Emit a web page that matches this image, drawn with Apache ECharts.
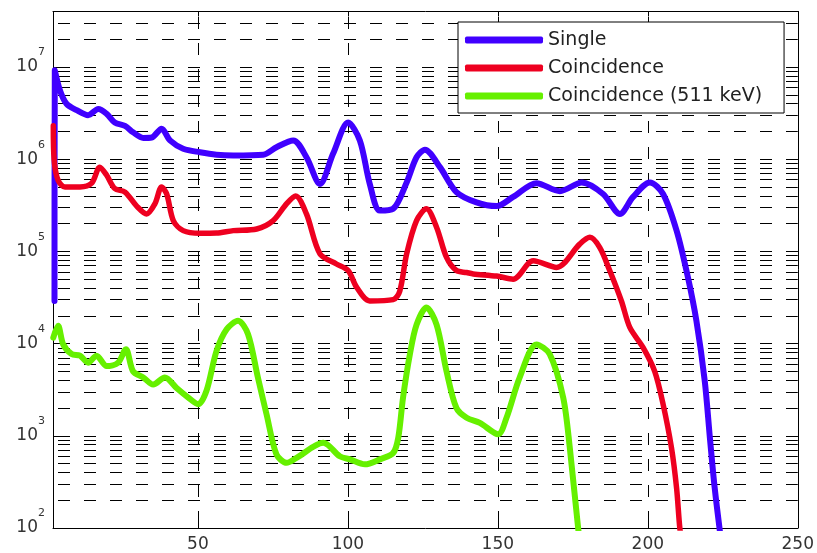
<!DOCTYPE html>
<html>
<head>
<meta charset="utf-8">
<script src="https://cdn.jsdelivr.net/npm/echarts@6.0.0/dist/echarts.min.js"></script>
<style>
  html, body { margin: 0; padding: 0; background: #fff; }
  #chart { width: 817px; height: 553px; }
</style>
</head>
<body>
<div id="chart"></div>
<script>
// curve values (x, counts)
const singleX = [2.2, 2.3, 4, 6.2, 9.6, 13.4, 16.8, 19.6, 22.3, 25.7, 28.4, 31.8, 34.6, 37.9, 40.7, 45.1, 50.7, 56.2, 61.8, 71.8, 76.2, 81.8, 86.2, 90.7, 95.1, 100.1, 104, 107.3, 110.7, 115.1, 119.6, 122.9, 125.7, 130.7, 136.2, 142.9, 149.6, 155.1, 162.9, 170.7, 178, 185.1, 190.7, 195.1, 200.7, 205.1, 209.6, 213.4, 216.2, 219, 220.7, 222.3, 224.5]
const singleY = [2.9e4, 9.2e6, 5.6e6, 4.0e6, 3.4e6, 3.0e6, 3.5e6, 3.1e6, 2.5e6, 2.3e6, 1.96e6, 1.7e6, 1.72e6, 2.14e6, 1.6e6, 1.3e6, 1.19e6, 1.12e6, 1.1e6, 1.12e6, 1.35e6, 1.6e6, 1.05e6, 5.4e5, 1.15e6, 2.5e6, 1.6e6, 5.4e5, 2.77e5, 2.9e5, 5.6e5, 1.05e6, 1.27e6, 8.2e5, 4.4e5, 3.4e5, 3.1e5, 3.9e5, 5.5e5, 4.5e5, 5.6e5, 4.2e5, 2.55e5, 3.9e5, 5.6e5, 4.2e5, 1.68e5, 5.2e4, 1.77e4, 3.9e3, 950, 272, 70]

const coincX = [1.8, 2.1, 3.4, 5.7, 10.7, 14.6, 17.3, 19.6, 22.3, 25.7, 29.6, 32.9, 35.7, 37.9, 39.6, 41.8, 45.1, 50.7, 56.2, 61.8, 69.6, 75.1, 79.6, 82.6, 86.2, 90.7, 96.2, 100.1, 102.9, 107.3, 115.1, 117.3, 119.6, 122.9, 126.2, 129.6, 132.9, 136.2, 139.6, 141.8, 149.6, 155.1, 161.8, 169.6, 177.3, 180.7, 184, 187.3, 191.2, 194, 198.4, 202.3, 205.1, 207.9, 209.6, 210.7, 211.5]
const coincY = [2.3e6, 9.7e5, 5.9e5, 5.0e5, 5.0e5, 5.5e5, 8.2e5, 6.7e5, 4.8e5, 4.4e5, 3.1e5, 2.55e5, 3.3e5, 5.0e5, 4.2e5, 2.16e5, 1.68e5, 1.57e5, 1.58e5, 1.68e5, 1.75e5, 2.16e5, 3.3e5, 4.0e5, 2.55e5, 9.4e4, 7.3e4, 6.2e4, 4.1e4, 2.9e4, 3.0e4, 3.7e4, 9.4e4, 2.16e5, 2.9e5, 1.82e5, 8.6e4, 6.2e4, 5.9e4, 5.7e4, 5.4e4, 5.0e4, 7.9e4, 6.7e4, 1.2e5, 1.42e5, 1.1e5, 6.2e4, 2.9e4, 1.5e4, 9.1e3, 5.0e3, 2.2e3, 740, 270, 98, 70]

const kevX = [1.8, 3.4, 5.1, 7.9, 10.7, 13.4, 16.2, 19.6, 23.4, 26, 28.4, 31.8, 35.1, 39, 42.9, 46.8, 50.1, 52.9, 56.2, 59.6, 63.4, 66.7, 70, 72.9, 76.2, 79.6, 82.9, 91.8, 97.3, 100.7, 105.7, 110.7, 115.1, 116.8, 118.4, 120.7, 122.9, 126.2, 129.6, 132.9, 136.2, 139.6, 144, 150.1, 152.9, 157.3, 162.9, 167.3, 171.8, 174, 176.8, 177.5]
const kevY = [1.16e4, 1.56e4, 9.8e3, 7.7e3, 7.4e3, 6.2e3, 7.4e3, 5.7e3, 6.2e3, 8.7e3, 5.0e3, 4.3e3, 3.6e3, 4.3e3, 3.3e3, 2.6e3, 2.2e3, 3.1e3, 8.3e3, 1.43e4, 1.77e4, 1.27e4, 4.3e3, 1.71e3, 630, 510, 577, 840, 600, 555, 490, 555, 650, 950, 2.6e3, 7.7e3, 1.6e4, 2.46e4, 1.6e4, 5.0e3, 2.0e3, 1.57e3, 1.38e3, 1.04e3, 1.57e3, 4.3e3, 9.8e3, 7.7e3, 2.6e3, 740, 98, 70]

const seriesNames = ['Single', 'Coincidence', 'Coincidence (511 keV)']
const seriesColors = ['#4000ff', '#ee0020', '#66f000']

const xTicks = [50, 100, 150, 200, 250]
const xGrid = [50, 100, 150, 200]
const xMin = 1.7
const xMax = 250
const yMin = 1e2
const yMax = 4e7

// matlab style grid: dashed line at every 1..9 x 10^k
const yGrid = []
for (let k = 2; k <= 7; k++) {
  for (let m = 1; m <= 9; m++) {
    const v = m * Math.pow(10, k)
    if (v > yMin && v < yMax) yGrid.push(v)
  }
}

const zip = (xs, ys) => xs.map((x, i) => [x, ys[i]])

const font = 'DejaVu Sans'

const chart = echarts.init(document.getElementById('chart'))

const tickStyle = { show: true, inside: true, length: 5, lineStyle: { color: '#000' } }

function makeLine(name, xs, ys, i, width) {
  return {
    name,
    type: 'line',
    data: zip(xs, ys),
    showSymbol: false,
    smooth: 0.3,
    z: 3,
    lineStyle: { color: seriesColors[i], width, cap: 'round', join: 'round' },
    itemStyle: { color: seriesColors[i] }
  }
}

chart.setOption({
  animation: false,
  backgroundColor: '#fff',
  grid: { left: 53, right: 19, top: 11.5, bottom: 25 },
  legend: {
    data: seriesNames,
    orient: 'vertical',
    left: 458,
    top: 22,
    z: 20,
    padding: [8, 22, 7, 7],
    itemWidth: 78,
    itemHeight: 7,
    itemGap: 8,
    icon: 'roundRect',
    backgroundColor: '#fff',
    borderColor: '#000',
    borderWidth: 1,
    borderRadius: 0,
    textStyle: { fontFamily: font, fontSize: 19, color: '#222', lineHeight: 20 }
  },
  xAxis: [
    {
      type: 'value',
      min: xMin,
      max: xMax,
      axisLine: { show: true, onZero: false, lineStyle: { color: '#000' } },
      axisTick: Object.assign({ customValues: xTicks }, tickStyle),
      axisLabel: {
        customValues: xTicks,
        margin: 8,
        fontFamily: font,
        fontSize: 17,
        color: '#333'
      },
      splitLine: { show: false }
    },
    {
      type: 'value',
      position: 'top',
      min: xMin,
      max: xMax,
      axisLine: { show: true, onZero: false, lineStyle: { color: '#000' } },
      axisTick: Object.assign({ customValues: xTicks }, tickStyle),
      axisLabel: { show: false },
      splitLine: { show: false }
    }
  ],
  yAxis: [
    {
      type: 'log',
      logBase: 10,
      min: yMin,
      max: yMax,
      axisLine: { show: true, onZero: false, lineStyle: { color: '#000' } },
      axisTick: tickStyle,
      axisLabel: {
        margin: 8,
        color: '#333',
        formatter: v => {
          const e = Math.log10(v)
          if (Math.abs(e - Math.round(e)) > 1e-6) return ''
          return '{b|10}{e|' + Math.round(e) + '}'
        },
        rich: {
          b: { fontFamily: font, fontSize: 17, lineHeight: 40, verticalAlign: 'middle', color: '#333' },
          e: { fontFamily: font, fontSize: 11, lineHeight: 12, verticalAlign: 'top', color: '#333' }
        }
      },
      splitLine: { show: false }
    },
    {
      type: 'log',
      logBase: 10,
      position: 'right',
      min: yMin,
      max: yMax,
      axisLine: { show: true, onZero: false, lineStyle: { color: '#000' } },
      axisTick: tickStyle,
      axisLabel: { show: false },
      splitLine: { show: false }
    }
  ],
  series: [
    {
      name: 'grid',
      type: 'line',
      data: [],
      z: 1,
      markLine: {
        silent: true,
        z: 1,
        symbol: ['none', 'none'],
        label: { show: false },
        lineStyle: { color: '#000', width: 1, type: [12, 14], dashOffset: 21 },
        data: yGrid.map(v => ({ yAxis: v })).concat(xGrid.map(v => ({ xAxis: v })))
      }
    },
    makeLine(seriesNames[0], singleX, singleY, 0, 6),
    makeLine(seriesNames[1], coincX, coincY, 1, 5.5),
    makeLine(seriesNames[2], kevX, kevY, 2, 6)
  ]
})
</script>
</body>
</html>
